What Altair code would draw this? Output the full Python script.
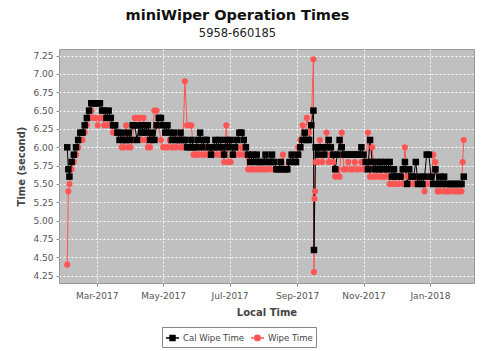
import altair as alt
import pandas as pd

# ---------------- data ----------------
START = "2017-02-02"
STEP_DAYS = 2  # one reading every two days

SERIES = ["Cal Wipe Time", "Wipe Time"]
COLORS = ["#000000", "#FF5555"]

cal_wipe = [
    6.0, 5.6, 5.8, 5.9, 6.0, 6.1, 6.2, 6.2, 6.3, 6.4,
    6.5, 6.6, 6.6, 6.6, 6.6, 6.6, 6.5, 6.5, 6.4, 6.5,
    6.4, 6.3, 6.3, 6.2, 6.1, 6.2, 6.1, 6.1, 6.2, 6.1,
    6.3, 6.3, 6.1, 6.3, 6.2, 6.3, 6.2, 6.3, 6.1, 6.2,
    6.1, 6.3, 6.4, 6.4, 6.3, 6.2, 6.3, 6.2, 6.1, 6.2,
    6.1, 6.1, 6.2, 6.1, 6.1, 6.0, 6.0, 6.1, 6.0, 6.0,
    6.1, 6.2, 6.0, 6.1, 6.1, 6.0, 5.9, 6.0, 6.1, 6.0,
    6.1, 6.0, 5.9, 6.1, 6.0, 6.1, 5.9, 6.0, 6.1, 6.2,
    6.2, 6.1, 6.0, 5.9, 5.8, 5.9, 5.8, 5.9, 5.8, 5.8,
    5.8, 5.9, 5.8, 5.8, 5.9, 5.8, 5.7, 5.7, 5.8, 5.7,
    5.7, 5.7, 5.8, 5.9, 5.8, 5.8, 5.9, 6.0, 6.1, 6.2,
    6.1, 6.1, 6.3, 6.5, 6.0, 5.9, 6.0, 6.0, 5.9, 6.0,
    6.1, 6.0, 5.9, 5.7, 5.9, 6.1, 6.0, 5.9, 5.9, 5.9,
    5.9, 5.9, 5.9, 5.9, 5.9, 6.0, 5.9, 5.8, 5.7, 6.1,
    5.8, 5.7, 5.8, 5.7, 5.8, 5.7, 5.8, 5.7, 5.8, 5.6,
    5.7, 5.6, 5.6, 5.6, 5.7, 5.8, 5.5, 5.7, 5.6, 5.6,
    5.8, 5.5, 5.6, 5.5, 5.6, 5.9, 5.9, 5.6, 5.5, 5.7,
    5.5, 5.6, 5.5, 5.6, 5.5, 5.5, 5.5, 5.5, 5.5, 5.5,
    5.5, 5.5, 5.6,
]

wipe = [
    4.4, 5.5, 5.7, 5.8, 5.9, 6.0, 6.1, 6.1, 6.2, 6.3,
    6.4, 6.5, 6.4, 6.4, 6.3, 6.4, 6.4, 6.3, 6.3, 6.4,
    6.3, 6.2, 6.2, 6.2, 6.1, 6.0, 6.0, 6.3, 6.0, 6.0,
    6.1, 6.4, 6.4, 6.4, 6.1, 6.4, 6.1, 6.0, 6.0, 6.1,
    6.5, 6.5, 6.3, 6.1, 6.0, 6.0, 6.0, 6.1, 6.0, 6.0,
    6.0, 6.1, 6.0, 6.0, 6.9, 6.3, 6.3, 6.3, 5.9, 5.9,
    5.9, 6.0, 5.9, 5.9, 6.0, 5.9, 5.9, 5.9, 6.0, 5.9,
    5.9, 6.0, 5.8, 6.3, 5.8, 5.8, 5.9, 5.9, 6.0, 5.9,
    6.0, 5.9, 5.9, 5.7, 5.7, 5.7, 5.7, 5.7, 5.7, 5.7,
    5.7, 5.7, 5.7, 5.7, 5.8, 5.7, 5.7, 5.7, 5.7, 5.9,
    5.7, 5.7, 5.8, 5.8, 5.9, 5.8, 6.0, 6.1, 6.3, 6.1,
    6.4, 6.2, 6.3, 7.2, 5.8, 5.8, 6.1, 5.8, 5.9, 6.2,
    5.8, 5.9, 5.8, 5.6, 5.7, 5.6, 6.2, 5.7, 5.7, 5.8,
    5.7, 5.7, 5.8, 5.7, 5.7, 5.8, 5.7, 5.7, 6.2, 5.6,
    6.0, 5.6, 5.6, 5.7, 5.6, 5.6, 5.6, 5.7, 5.5, 5.5,
    5.6, 5.5, 5.5, 5.6, 5.5, 6.0, 5.6, 5.5, 5.6, 5.5,
    5.6, 5.5, 5.6, 5.5, 5.4, 5.5, 5.6, 5.5, 5.9, 5.8,
    5.4, 5.4, 5.5, 5.4, 5.4, 5.4, 5.4, 5.5, 5.4, 5.4,
    5.4, 5.4, 6.1,
]

# extra readings that fall between the regular samples (days after START)
cal_extra_days = [1.0, 226.5]
cal_extra_vals = [5.7, 4.6]
wipe_extra_days = [1.0, 226.5, 227.0, 227.5, 363.0]
wipe_extra_vals = [5.4, 4.3, 5.3, 5.4, 5.8]

y_ticks = [4.25, 4.50, 4.75, 5.00, 5.25, 5.50, 5.75, 6.00, 6.25, 6.50, 6.75, 7.00, 7.25]


def build(vals, extra_days, extra_vals, name):
    days = [i * STEP_DAYS for i in range(len(vals))] + list(extra_days)
    v = list(vals) + list(extra_vals)
    df = pd.DataFrame({"day": days, "value": v})
    df["date"] = pd.Timestamp(START) + pd.to_timedelta(df["day"], unit="D")
    df["series"] = name
    return df.sort_values("day")


df = pd.concat([
    build(cal_wipe, cal_extra_days, cal_extra_vals, SERIES[0]),
    build(wipe, wipe_extra_days, wipe_extra_vals, SERIES[1]),
], ignore_index=True)[["date", "value", "series"]]

# ---------------- chart ----------------
FONT = "DejaVu Sans"
LABEL_COLOR = "#555555"
TITLE_COLOR = "#444444"

x_enc = alt.X(
    "date:T",
    scale=alt.Scale(domain=[alt.DateTime(year=2017, month=1, date=25, hours=10),
                            alt.DateTime(year=2018, month=2, date=10, hours=10)]),
    axis=alt.Axis(
        title="Local Time",
        values=[alt.DateTime(year=2017, month=3, date=1),
                alt.DateTime(year=2017, month=5, date=1),
                alt.DateTime(year=2017, month=7, date=1),
                alt.DateTime(year=2017, month=9, date=1),
                alt.DateTime(year=2017, month=11, date=1),
                alt.DateTime(year=2018, month=1, date=1)],
        format="%b-%Y",
        labelFlush=False,
        labelPadding=5,
        titlePadding=7,
    ),
)
y_enc = alt.Y(
    "value:Q",
    scale=alt.Scale(domain=[4.15, 7.34], nice=False, zero=False),
    axis=alt.Axis(title="Time (second)", values=y_ticks, format=".2f",
                  labelPadding=3, titlePadding=6),
)

base = alt.Chart(df).encode(x=x_enc, y=y_enc)

red_line = base.transform_filter(alt.datum.series == SERIES[1]).mark_line(
    color=COLORS[1], strokeWidth=1)
black_line = base.transform_filter(alt.datum.series == SERIES[0]).mark_line(
    color=COLORS[0], strokeWidth=1)
red_pts = base.transform_filter(alt.datum.series == SERIES[1]).mark_point(
    shape="circle", filled=True, size=38, color=COLORS[1], opacity=1)
black_pts = base.transform_filter(alt.datum.series == SERIES[0]).mark_point(
    shape="square", filled=True, size=42, color=COLORS[0], opacity=1)

SQ_PATH = "M-1,0H1M-0.38,-0.38H0.38V0.38H-0.38Z"
CI_PATH = ("M-1,0H1M0.42,0A0.42,0.42 0 1,1 -0.42,0"
           "A0.42,0.42 0 1,1 0.42,0Z")

legend = alt.Legend(
    title=None, orient="none", legendX=103, legendY=278, direction="horizontal",
    strokeColor="#888888", fillColor="white", padding=3,
    symbolSize=169, symbolStrokeWidth=1.5, labelFontSize=8.5, labelFont=FONT,
    labelColor="#444444", labelOffset=3, columnPadding=4, symbolOpacity=1,
)
legend_layer = base.transform_filter(alt.datum.value > 100).mark_point(
    filled=True, opacity=1).encode(
    fill=alt.Fill("series:N", scale=alt.Scale(domain=SERIES, range=COLORS), legend=legend),
    stroke=alt.Stroke("series:N", scale=alt.Scale(domain=SERIES, range=COLORS), legend=legend),
    shape=alt.Shape("series:N", scale=alt.Scale(domain=SERIES, range=[SQ_PATH, CI_PATH]),
                    legend=legend),
)

chart = alt.layer(red_line, black_line, red_pts, black_pts, legend_layer).properties(
    width=415,
    height=234,
    autosize=alt.AutoSizeParams(type="none"),
    padding={"left": 59, "top": 49, "right": 26, "bottom": 68},
    background="white",
    title=alt.TitleParams(
        text="miniWiper Operation Times",
        subtitle="5958-660185",
        font=FONT, fontSize=14.5, fontWeight="bold", color="#111111",
        subtitleFont=FONT, subtitleFontSize=11.5, subtitleColor="#222222",
        subtitlePadding=4, anchor="middle", dx=-29, offset=9,
    ),
).configure_view(
    fill="#C0C0C0", stroke="#999999", strokeWidth=1,
).configure_axis(
    labelFont=FONT, labelFontSize=9, labelColor=LABEL_COLOR,
    titleFont=FONT, titleFontSize=10, titleFontWeight="bold", titleColor=TITLE_COLOR,
    grid=True, gridColor="white", gridDash=[2, 2], gridWidth=1, gridOpacity=0.9,
    domain=False, ticks=True, tickSize=3, tickColor="#888888",
)

chart.save("out.html", embed_options={"renderer": "svg", "actions": False})
